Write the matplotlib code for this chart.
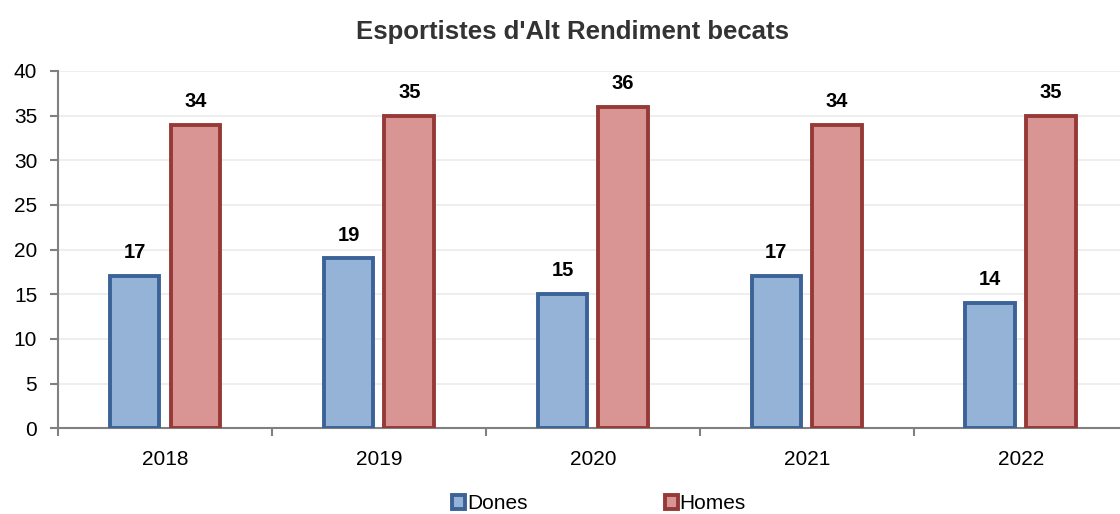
import matplotlib
matplotlib.use("Agg")
import matplotlib.pyplot as plt
import numpy as np

# data
years = ["2018", "2019", "2020", "2021", "2022"]
dones = [17, 19, 15, 17, 14]
homes = [34, 35, 36, 34, 35]

plt.rcParams['font.family'] = ['Liberation Sans', 'DejaVu Sans']

fig = plt.figure(figsize=(11.2, 5.14), dpi=100)
ax = fig.add_axes([0.0518, 0.167, 0.955, 0.695])

x = np.arange(len(years))
w = 0.232
off = 0.142

b1 = ax.bar(x - off, dones, w, color="#95B3D7", edgecolor="#3B6397",
            linewidth=2.8, label="Dones", zorder=3)
b2 = ax.bar(x + off, homes, w, color="#D99594", edgecolor="#963A38",
            linewidth=2.8, label="Homes", zorder=3)

# value labels above the bars
for bars in (b1, b2):
    for r in bars:
        ax.annotate(str(int(r.get_height())),
                    (r.get_x() + r.get_width() / 2, r.get_height()),
                    xytext=(0, 10), textcoords="offset points",
                    ha="center", va="bottom", fontsize=14.5, fontweight="bold")

ax.set_xlim(-0.5, len(years) - 0.5)
ax.set_ylim(0, 40)
ax.set_yticks(range(0, 41, 5))
ax.set_xticks(x)
ax.set_xticklabels(years)
ax.set_xticks(np.arange(-0.5, len(years), 1), minor=True)
ax.tick_params(axis="x", which="major", length=0, labelsize=15, pad=16)
ax.tick_params(axis="x", which="minor", length=6, width=1.5, color="#808080")
ax.tick_params(axis="y", length=6, width=1.5, color="#808080", labelsize=15, pad=9)

ax.grid(axis="y", color="#EBEBEB", linewidth=1.2, zorder=0)
for s in ("top", "right"):
    ax.spines[s].set_visible(False)
for s in ("left", "bottom"):
    ax.spines[s].set_color("#808080")
    ax.spines[s].set_linewidth(1.5)

fig.suptitle("Esportistes d'Alt Rendiment becats", x=0.511, y=0.962,
             fontsize=18.5, fontweight="bold", color="#333333")

fig.legend(handles=[b1, b2], loc="lower center", bbox_to_anchor=(0.535, -0.035),
           ncol=2, frameon=False, fontsize=15, handlelength=0.6,
           handleheight=0.6, handletextpad=0.1, columnspacing=6.6)

fig.savefig("out.png", dpi=100)
